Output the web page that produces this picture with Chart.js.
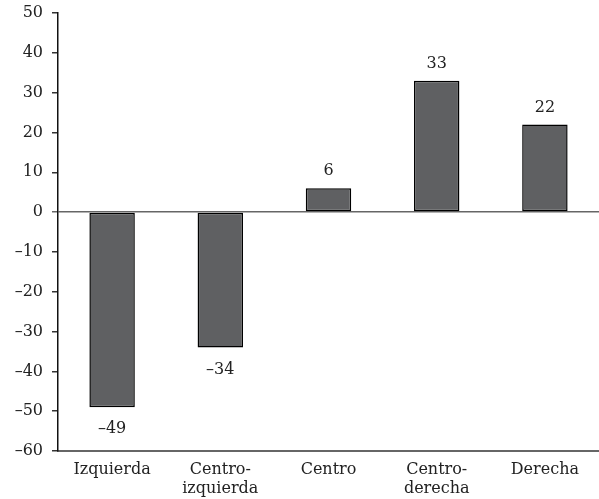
<!DOCTYPE html>
<html>
<head>
<meta charset="utf-8">
<script src="https://cdn.jsdelivr.net/npm/chart.js@4"></script>
<style>
  html, body { margin: 0; padding: 0; background: #fff; }
  #wrap { width: 599px; height: 499px; }
</style>
</head>
<body>
<div id="wrap"><canvas id="c"></canvas></div>
<script>
const categories = [["Izquierda"], ["Centro-", "izquierda"], ["Centro"], ["Centro-", "derecha"], ["Derecha"]];
const values = [-49, -34, 6, 33, 22];
const yMin = -60, yMax = 50, yStep = 10;

const FONT = "'DejaVu Serif', serif";
const FONT_SIZE = 16;
const fmt = v => (v < 0 ? "\u2013" + Math.abs(v) : String(v));

// value labels above positive bars, below negative ones
const valueLabels = {
  id: "valueLabels",
  afterDatasetsDraw(chart) {
    const ctx = chart.ctx;
    const meta = chart.getDatasetMeta(0);
    ctx.save();
    ctx.font = FONT_SIZE + "px " + FONT;
    ctx.fillStyle = "#222";
    ctx.textAlign = "center";
    ctx.textBaseline = "middle";
    meta.data.forEach((bar, i) => {
      const v = values[i];
      const y = v >= 0 ? bar.y - 17 : bar.y + 22;
      ctx.fillText(fmt(v), bar.x, y);
    });
    ctx.restore();
  }
};

new Chart(document.getElementById("c"), {
  type: "bar",
  data: {
    labels: categories,
    datasets: [{
      data: values,
      backgroundColor: "#5f6062",
      borderColor: "#000",
      borderWidth: 1.5,
      borderSkipped: false,
      categoryPercentage: 1,
      barPercentage: 0.42
    }]
  },
  options: {
    responsive: true,
    maintainAspectRatio: false,
    animation: false,
    layout: { padding: { top: 13, right: 0, left: 0, bottom: 0 } },
    plugins: { legend: { display: false }, tooltip: { enabled: false } },
    scales: {
      x: {
        grid: { display: false },
        border: { display: true, color: "#666", width: 2 },
        ticks: {
          font: { family: FONT, size: FONT_SIZE },
          color: "#222",
          padding: 1,
          maxRotation: 0
        },
        afterFit(s) { s.height = 48; }
      },
      y: {
        min: yMin,
        max: yMax,
        border: { display: true, color: "#111", width: 1.5 },
        grid: {
          drawOnChartArea: true,
          drawTicks: true,
          tickLength: 6,
          tickColor: c => (c.tick && c.tick.value === 0 ? "#666" : "#333"),
          lineWidth: 1.5,
          color: c => (c.tick && c.tick.value === 0 ? "#666" : "rgba(0,0,0,0)")
        },
        ticks: {
          stepSize: yStep,
          font: { family: FONT, size: FONT_SIZE },
          color: "#222",
          padding: 9,
          callback: v => fmt(v)
        },
        afterFit(s) {
          s.width = 58;
          s.paddingTop = 0;
          s.paddingBottom = 0;
        }
      }
    }
  },
  plugins: [valueLabels]
});
</script>
</body>
</html>
